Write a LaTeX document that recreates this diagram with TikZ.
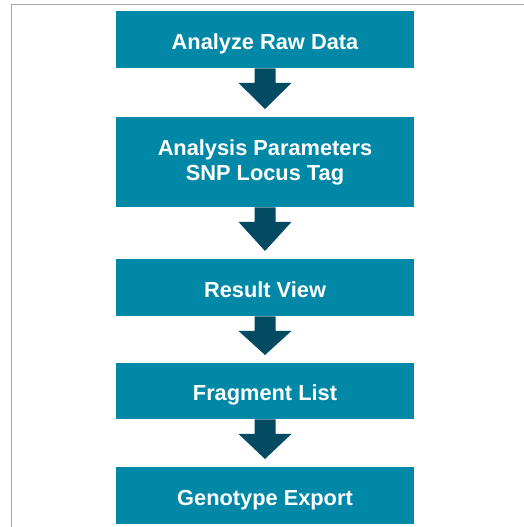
\documentclass[tikz,border=0pt]{standalone}
\usepackage{fontspec}
\setmainfont{Liberation Sans}
\usetikzlibrary{calc}
\definecolor{boxteal}{HTML}{0088A6}
\definecolor{arrowteal}{HTML}{024B63}
\definecolor{framegray}{HTML}{A8A8A8}
\tikzset{
  stepbox/.style={fill=boxteal, draw=none, minimum width=298pt, text=white,
    font=\fontsize{21.8}{27}\selectfont\bfseries, align=center, inner sep=0pt, anchor=north},
  oneline/.style={text height=19pt, text depth=0pt},
  blockarrow/.style={fill=arrowteal, draw=none}
}
\newcommand{\flowarrow}[2]{%
  \fill[blockarrow] ($(#1.south)+(-10.5,0)$) -- ($(#1.south)+(10.5,0)$) --
    ($(#1.south)+(10.5,14.5)$) -- ($(#1.south)+(26.5,14.5)$) --
    ($(#2.north)+(0,-8)$) -- ($(#1.south)+(-26.5,14.5)$) --
    ($(#1.south)+(-10.5,14.5)$) -- cycle;}
\begin{document}
\begin{tikzpicture}[x=1pt,y=-1pt]
\useasboundingbox (0,0) rectangle (523,527);
\fill[white] (0,0) rectangle (523,527);
\draw[framegray, line width=1.8pt] (11.5,540) -- (11.5,4.5) -- (540,4.5);
\node[stepbox, oneline, minimum height=57pt] (a) at (265,11) {Analyze Raw Data};
\node[stepbox, minimum height=90pt] (b) at (265,117) {\raisebox{-2pt}{\shortstack{Analysis Parameters\\[2pt]SNP Locus Tag}}};
\node[stepbox, oneline, minimum height=57pt] (c) at (265,259) {Result View};
\node[stepbox, oneline, minimum height=56pt] (d) at (265,363) {Fragment List};
\node[stepbox, oneline, minimum height=57pt] (e) at (265,467) {Genotype Export};
\flowarrow{a}{b}
\flowarrow{b}{c}
\flowarrow{c}{d}
\flowarrow{d}{e}
\end{tikzpicture}
\end{document}
